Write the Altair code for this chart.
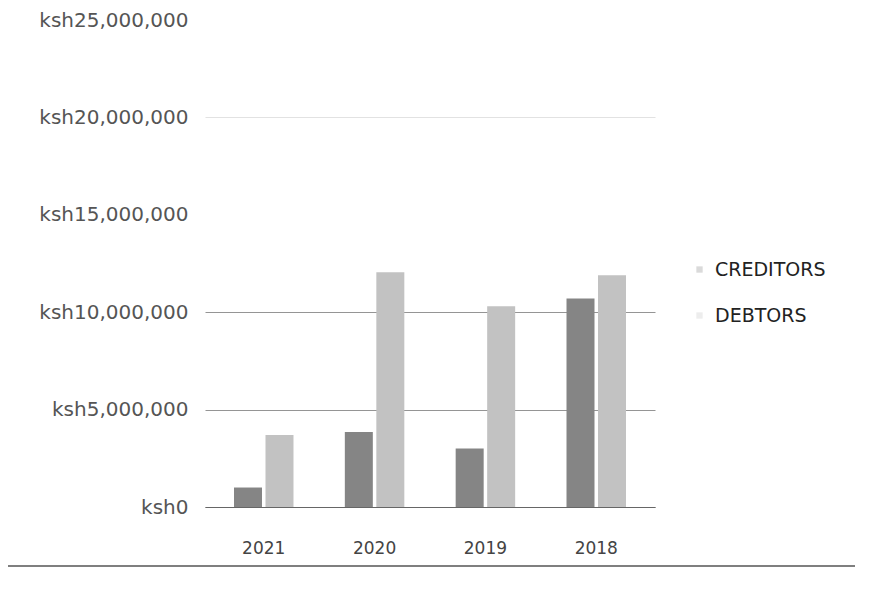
import altair as alt
import pandas as pd

years = ["2021", "2020", "2019", "2018"]
creditors = [1000000, 3850000, 3000000, 10700000]
debtors = [3700000, 12050000, 10300000, 11900000]
series = ["CREDITORS", "DEBTORS"]
colors = ["#858585", "#c2c2c2"]
y_ticks = [0, 5000000, 10000000, 15000000, 20000000, 25000000]

rows = []
for i, y in enumerate(years):
    rows.append({"year": y, "series": series[0], "value": creditors[i]})
    rows.append({"year": y, "series": series[1], "value": debtors[i]})
df = pd.DataFrame(rows)

font = "DejaVu Sans"

bars = alt.Chart(df).mark_bar(size=28).encode(
    x=alt.X("year:N", sort=years, title=None,
            scale=alt.Scale(paddingInner=0.46, paddingOuter=0.26),
            axis=alt.Axis(labelAngle=0, labelFontSize=17, labelColor="#444",
                          labelFont=font, ticks=False, domainColor="#666",
                          labelPadding=41, labelBaseline="middle")),
    xOffset=alt.XOffset("series:N", sort=series, scale=alt.Scale(paddingInner=0.1)),
    y=alt.Y("value:Q", title=None,
            scale=alt.Scale(domain=[0, 25000000]),
            axis=alt.Axis(values=y_ticks, labelExpr="'ksh' + format(datum.value, ',')",
                          labelFontSize=20, labelColor="#555", labelFont=font,
                          domain=False, ticks=False, labelPadding=17,
                          gridColor="#8a8a8a",
                          gridOpacity=alt.ExprRef("datum.value <= 10000000 ? 0.9 : (datum.value == 20000000 ? 0.25 : 0)"))),
    color=alt.Color("series:N", sort=series,
                    scale=alt.Scale(domain=series, range=colors),
                    legend=alt.Legend(title=None, orient="none", legendX=485, legendY=240,
                                      labelFontSize=19, labelColor="#222", labelFont=font,
                                      symbolType="square", symbolSize=40, rowPadding=26,
                                      symbolOpacity=0.3, labelOffset=6)),
)

# chart-area border line along the bottom (as in the scanned original)
border = alt.Chart(pd.DataFrame({"a": [0]})).mark_rule(color="#555", strokeWidth=1.5).encode(
    x=alt.value(-205), x2=alt.value(664), y=alt.value(546)
)

chart = alt.layer(bars, border).properties(
    width=450, height=487,
    autosize=alt.AutoSizeParams(type="none"),
    padding={"left": 197, "top": 12, "right": 200, "bottom": 70},
).configure_view(stroke=None)

chart.save("out.html", embed_options={"renderer": "svg", "actions": False})
